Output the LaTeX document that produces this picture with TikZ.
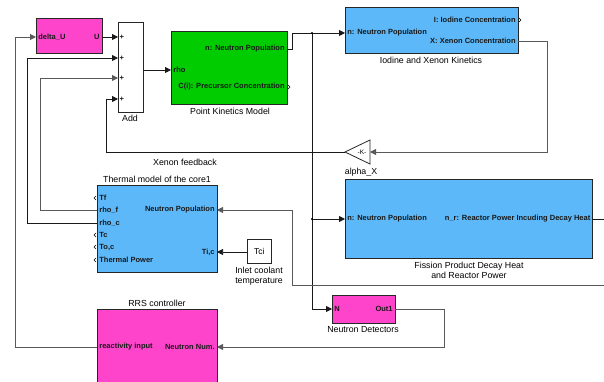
\documentclass[tikz,border=0pt]{standalone}
\usepackage{fontspec}
\setmainfont{Liberation Sans}
\usetikzlibrary{arrows.meta}
\definecolor{magblk}{HTML}{FF44CC}
\definecolor{grnblk}{HTML}{00CC00}
\definecolor{blublk}{HTML}{5CB8F8}
\tikzset{
  block/.style={draw=black!85, line width=0.8pt, anchor=north west, inner sep=0pt},
  port/.style={font=\fontsize{7.5}{8}\selectfont\bfseries, inner xsep=2.2pt, inner ysep=1pt, text=black!90},
  caption/.style={font=\fontsize{8.8}{10}\selectfont, inner sep=0pt, align=center},
  wire/.style={line width=0.75pt, black!90},
  gwire/.style={line width=0.9pt, black!65},
  arr/.style={-{Triangle[length=6pt,width=6pt]}},
  tap/.style={circle, fill=black, inner sep=0pt, minimum size=2.4pt},
  outmark/.style={line width=0.5pt}
}
\begin{document}
\begin{tikzpicture}[x=1pt,y=-1pt]
\useasboundingbox (0,0) rectangle (604,382);

% ---- blocks ----
\node[block, fill=magblk, minimum width=66pt, minimum height=35pt] (dU) at (36,18) {};
\node[block, fill=white, minimum width=25pt, minimum height=90pt] (add) at (118,22) {};
\node[block, fill=grnblk, minimum width=116pt, minimum height=73pt] (pk) at (171,31) {};
\node[block, fill=blublk, minimum width=173pt, minimum height=46pt] (ix) at (345,7) {};
\node[block, fill=blublk, minimum width=120pt, minimum height=87pt] (th) at (97,185) {};
\node[block, fill=white, minimum width=24pt, minimum height=24pt] (tci) at (247,239) {};
\node[block, fill=blublk, minimum width=247pt, minimum height=79pt] (fp) at (345,179) {};
\node[block, fill=magblk, minimum width=63pt, minimum height=28pt] (nd) at (332,295) {};
\node[block, fill=magblk, minimum width=120pt, minimum height=80pt] (rrs) at (97,309) {};
\draw[line width=0.8pt, black!85] (370,140) -- (345,152) -- (370,164) -- cycle;
\node[font=\fontsize{6.5}{7}\selectfont, inner sep=0pt] (gain) at (362,152) {-K-};

% ---- ports ----
\coordinate (dUin) at (36,37);   \coordinate (dUout) at (102,37);
\coordinate (a1) at (118,37); \coordinate (a2) at (118,58);
\coordinate (a3) at (118,78); \coordinate (a4) at (118,99);
\coordinate (aout) at (143,70);
\coordinate (pkrho) at (171,70); \coordinate (pkn) at (287,49); \coordinate (pkc) at (287,87);
\coordinate (ixn) at (345,33); \coordinate (ixi) at (518,20); \coordinate (ixx) at (518,41);
\coordinate (gin) at (370,152); \coordinate (gout) at (345,152);
\coordinate (thf) at (97,210); \coordinate (thc) at (97,223);
\coordinate (thn) at (217,210); \coordinate (thti) at (217,252);
\coordinate (tcio) at (247,252);
\coordinate (fpn) at (345,219); \coordinate (fpr) at (592,219);
\coordinate (ndn) at (332,309); \coordinate (ndo) at (395,309);
\coordinate (rrsin) at (97,347); \coordinate (rrsn) at (217,347);
\coordinate (edgeR) at (604,219); \coordinate (edgeP) at (604,285);
\coordinate (tapA) at (312,33); \coordinate (tapB) at (312,219);

% ---- port labels ----
\node[port, anchor=west] (l1) at (dUin) {delta\_U};
\node[port, anchor=east] (l2) at (dUout) {U};
\foreach \p/\n in {a1/p1,a2/p2,a3/p3,a4/p4}
  \node[port, anchor=west, inner xsep=1.5pt] (\n) at (\p) {+};
\node[port, anchor=west] (l3) at (pkrho) {rho};
\node[port, anchor=east] (l4) at (pkn) {n: Neutron Population};
\node[port, anchor=east] (l5) at (pkc) {C(i): Precursor Concentration};
\node[port, anchor=east] (l6) at (ixi) {I: Iodine Concentration};
\node[port, anchor=west] (l7) at (ixn) {n: Neutron Population};
\node[port, anchor=east] (l8) at (ixx) {X: Xenon Concentration};
\node[port, anchor=west] (t1) at (97,198) {Tf};
\node[port, anchor=west] (t2) at (thf) {rho\_f};
\node[port, anchor=west] (t3) at (thc) {rho\_c};
\node[port, anchor=west] (t4) at (97,235) {Tc};
\node[port, anchor=west] (t5) at (97,247) {To,c};
\node[port, anchor=west] (t6) at (97,260) {Thermal Power};
\node[port, anchor=east] (t7) at (thn) {Neutron Population};
\node[port, anchor=east] (t8) at (thti) {Ti,c};
\node[font=\fontsize{8.5}{9}\selectfont, inner sep=0pt] (tcil) at (tci.center) {Tci};
\node[port, anchor=west] (f1) at (fpn) {n: Neutron Population};
\node[port, anchor=east, inner xsep=1.5pt] (f2) at (fpr) {n\_r: Reactor Power Incuding Decay Heat};
\node[port, anchor=west] (d1) at (ndn) {N};
\node[port, anchor=east] (d2) at (ndo) {Out1};
\node[port, anchor=west] (r1) at (rrsin) {reactivity input};
\node[port, anchor=east] (r2) at (rrsn) {Neutron Num.};

% ---- unconnected output markers ----
\foreach \x/\y in {518/20, 287/87}
  \draw[outmark] (\x+1,\y-2) -- (\x+3,\y) -- (\x+1,\y+2);
\foreach \y in {198,235,247,260}
  \draw[outmark] (96,\y-2) -- (94,\y) -- (96,\y+2);

% ---- captions ----
\node[caption] (c1) at (130,118) {Add};
\node[caption] (c2) at (230,111) {Point Kinetics Model};
\node[caption] (c3) at (431,60) {Iodine and Xenon Kinetics};
\node[caption] (c4) at (185,162) {Xenon feedback};
\node[caption] (c5) at (361,172) {alpha\_X};
\node[caption] (c6) at (157,179) {Thermal model of the core1};
\node[caption] (c7) at (259,276) {Inlet coolant\\temperature};
\node[caption] (c8) at (469,270) {Fission Product Decay Heat\\and Reactor Power};
\node[caption] (c9) at (363,330) {Neutron Detectors};
\node[caption] (c10) at (157,303) {RRS controller};

% ---- connectors ----
\draw[wire, arr] (dUout) -- (a1);
\draw[wire, arr] (aout) -- (pkrho);
\draw[wire, arr] (pkn) -- (292,49) -- (292,33) -- (ixn);
\draw[wire, arr] (tapA) -- (312,309) -- (ndn);
\draw[wire, arr] (tapB) -- (fpn);
\node[tap] (dotA) at (tapA) {};
\node[tap] (dotB) at (tapB) {};
\draw[wire] (fpr) -- (edgeR);
\draw[gwire, arr] (ixx) -- (547,41) -- (547,152) -- (gin);
\draw[wire, arr] (gout) -- (106,152) -- (106,99) -- (a4);
\draw[gwire, arr] (rrsin) -- (15,347) -- (15,37) -- (dUin);
\draw[wire, arr] (thc) -- (27,223) -- (27,58) -- (a2);
\draw[gwire, arr] (thf) -- (40,210) -- (40,78) -- (a3);
\draw[gwire, arr] (edgeP) -- (292,285) -- (292,210) -- (thn);
\draw[wire, arr] (tcio) -- (thti);
\draw[gwire, arr] (ndo) -- (444,309) -- (444,347) -- (rrsn);
\end{tikzpicture}
\end{document}
